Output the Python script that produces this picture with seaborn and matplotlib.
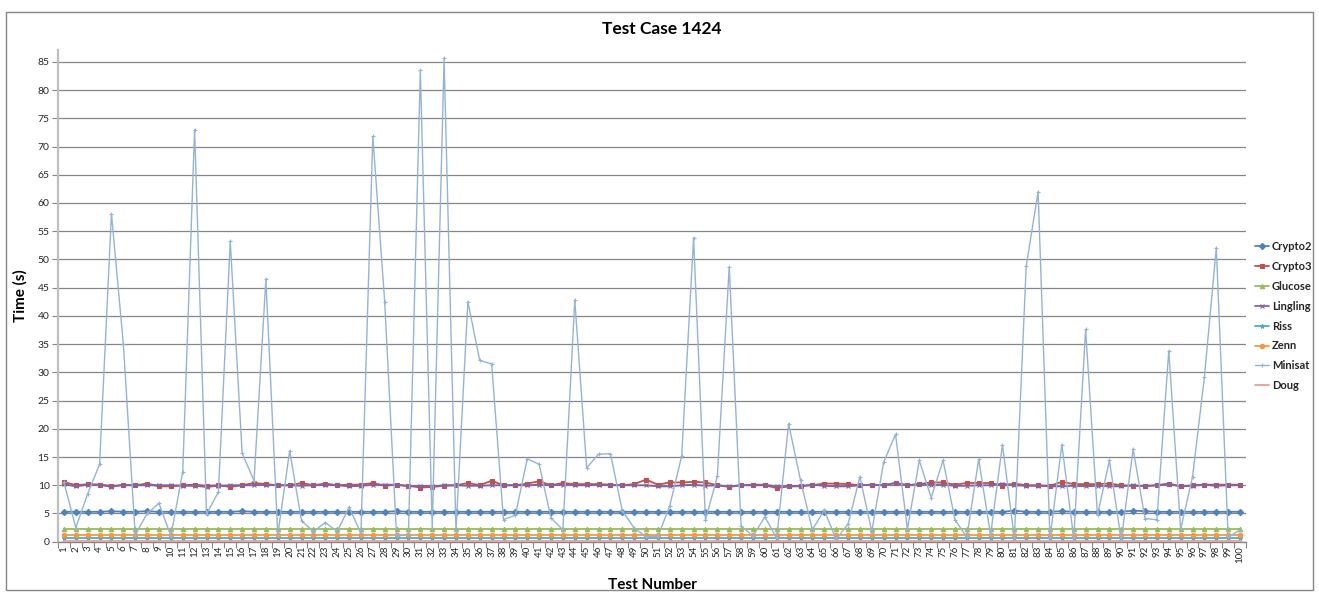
#!/usr/bin/env python3

import matplotlib
matplotlib.use('Agg')
import matplotlib.pyplot as plt
import seaborn as sns
from matplotlib.patches import Rectangle
from matplotlib.ticker import MultipleLocator

# --- Data ---
tests = list(range(1, 101))

crypto2 = [5.3, 5.3, 5.3, 5.3, 5.4, 5.3, 5.3, 5.4, 5.3, 5.3,
           5.3, 5.3, 5.3, 5.3, 5.3, 5.4, 5.3, 5.3, 5.3, 5.3,
           5.3, 5.3, 5.3, 5.3, 5.3, 5.3, 5.3, 5.3, 5.4, 5.3,
           5.3, 5.3, 5.3, 5.3, 5.3, 5.3, 5.3, 5.3, 5.3, 5.3,
           5.3, 5.3, 5.3, 5.3, 5.3, 5.3, 5.3, 5.3, 5.3, 5.3,
           5.3, 5.3, 5.3, 5.3, 5.3, 5.3, 5.3, 5.3, 5.3, 5.3,
           5.3, 5.3, 5.3, 5.3, 5.3, 5.3, 5.3, 5.3, 5.3, 5.3,
           5.3, 5.3, 5.3, 5.3, 5.3, 5.3, 5.3, 5.3, 5.3, 5.3,
           5.5, 5.3, 5.3, 5.3, 5.4, 5.3, 5.3, 5.3, 5.3, 5.3,
           5.5, 5.4, 5.3, 5.3, 5.3, 5.3, 5.3, 5.3, 5.3, 5.3]

crypto3 = [10.6, 10.0, 10.2, 10.1, 9.9, 10.0, 10.0, 10.3, 9.8, 9.8,
           10.0, 10.1, 9.9, 10.0, 9.7, 10.0, 10.4, 10.2, 10.0, 10.0,
           10.4, 10.0, 10.3, 10.0, 10.1, 10.1, 10.4, 9.9, 10.1, 9.9,
           9.6, 9.7, 9.9, 10.0, 10.4, 10.0, 10.8, 10.0, 10.0, 10.3,
           10.7, 10.0, 10.4, 10.2, 10.2, 10.2, 10.1, 10.0, 10.2, 11.0,
           10.1, 10.5, 10.5, 10.6, 10.5, 10.0, 9.7, 10.0, 10.0, 10.0,
           9.5, 9.8, 9.9, 10.0, 10.3, 10.3, 10.2, 10.0, 10.1, 10.0,
           10.4, 10.0, 10.2, 10.5, 10.5, 10.1, 10.4, 10.4, 10.4, 9.9,
           10.3, 10.0, 10.0, 9.9, 10.6, 10.2, 10.2, 10.2, 10.3, 10.0,
           9.9, 9.9, 10.0, 10.3, 9.8, 10.0, 10.1, 10.1, 10.1, 10.1]

glucose = [2.3] * 100

lingling = [10.2, 9.8, 10.1, 10.1, 9.7, 10.1, 10.0, 10.0, 10.0, 10.0,
            9.9, 9.9, 9.7, 9.9, 10.0, 10.0, 10.0, 10.1, 10.0, 10.0,
            9.9, 10.0, 10.1, 10.0, 9.8, 9.9, 10.1, 10.1, 10.1, 9.8,
            9.9, 9.8, 10.0, 10.0, 9.9, 9.9, 10.0, 10.0, 10.0, 10.0,
            10.1, 10.0, 10.1, 10.0, 10.0, 10.1, 10.0, 10.0, 10.0, 10.0,
            9.8, 9.8, 10.0, 10.1, 9.9, 10.0, 9.8, 10.0, 10.1, 10.1,
            9.8, 9.8, 9.8, 10.1, 9.9, 9.8, 9.8, 10.0, 10.1, 10.0,
            10.4, 10.0, 10.2, 10.1, 10.1, 9.9, 9.9, 10.0, 10.0, 10.3,
            10.0, 9.9, 9.9, 9.8, 9.8, 9.9, 9.8, 9.9, 9.8, 9.8,
            10.0, 9.8, 10.0, 10.2, 9.8, 9.9, 10.1, 9.9, 10.0, 10.0]

riss = [0.6] * 100

zenn = [1.2] * 100

minisat = [10.5, 2.5, 8.5, 13.7, 58.1, 35.0, 1.2, 5.0, 6.8, 1.0,
           12.4, 73.0, 4.9, 8.8, 53.2, 15.7, 10.8, 46.5, 1.2, 16.1,
           3.7, 1.8, 3.4, 1.8, 6.1, 1.5, 71.8, 42.5, 1.0, 1.3,
           83.5, 2.5, 85.6, 1.9, 42.5, 32.1, 31.5, 3.9, 4.7, 14.7,
           13.7, 4.2, 2.1, 42.8, 13.1, 15.5, 15.6, 5.5, 2.4, 0.9,
           0.9, 6.4, 15.2, 53.8, 3.8, 11.6, 48.7, 2.8, 1.0, 4.4,
           0.6, 20.9, 10.9, 2.1, 5.6, 0.4, 3.1, 11.5, 1.8, 14.1,
           19.0, 2.2, 14.4, 7.8, 14.4, 3.9, 0.8, 14.6, 1.2, 17.2,
           0.6, 48.8, 62.0, 0.6, 17.2, 0.6, 37.6, 4.7, 14.4, 0.3,
           16.4, 4.1, 3.9, 33.8, 2.2, 11.5, 29.2, 52.1, 0.8, 2.1]

doug = [0.1] * 100

series_names = ['Crypto2', 'Crypto3', 'Glucose', 'Lingling', 'Riss', 'Zenn', 'Minisat', 'Doug']
series_values = [crypto2, crypto3, glucose, lingling, riss, zenn, minisat, doug]
series_colors = ['#4F81BD', '#C0504D', '#9BBB59', '#8064A2', '#4BACC6', '#F79646', '#95B3D7', '#E6A0A0']
series_markers = ['D', 's', '^', 'x', '*', 'o', '+', '_']

# --- Plot ---
sns.set_theme(style='white')
plt.rcParams['font.family'] = ['Lato', 'DejaVu Sans']

fig = plt.figure(figsize=(13.19, 5.92), dpi=100)
ax = fig.add_axes([58 / 1319, 1 - 541.7 / 592, (1246 - 58) / 1319, (541.7 - 50) / 592])

for i, (name, vals, col, mk) in enumerate(zip(series_names, series_values, series_colors, series_markers)):
    lw = 1.0 if name == 'Minisat' else 1.3
    ms = 3.2 if mk != 'x' else 3.5
    sns.lineplot(x=tests, y=vals, ax=ax, color=col, marker=mk, markersize=ms,
                 markeredgecolor=col, markeredgewidth=0.8, linewidth=lw,
                 label=name, zorder=3 + i, legend=False)

ax.set_xlim(0.5, 100.5)
ax.set_ylim(0, 87.1)
ax.yaxis.set_major_locator(MultipleLocator(5))
ax.set_xticks(tests)
ax.set_xticklabels([str(t) for t in tests], rotation=90, fontsize=7, color='#262626')
ax.set_xticks([t + 0.5 for t in range(0, 101)], minor=True)
ax.tick_params(axis='x', which='major', length=0, pad=3)
ax.tick_params(axis='x', which='minor', length=4, width=0.8, color='#868686', direction='out')
ax.tick_params(axis='y', length=4, width=0.8, color='#868686', labelsize=7.5, labelcolor='#262626', pad=2)
ax.tick_params(axis='x', which='both', bottom=True)
ax.tick_params(axis='y', left=True)

ax.grid(axis='y', color='#868686', linewidth=0.9)
ax.grid(axis='x', visible=False)
ax.set_axisbelow(True)
for side in ['top', 'right']:
    ax.spines[side].set_visible(False)
ax.spines['left'].set_color('#BFBFBF')
ax.spines['left'].set_linewidth(1.6)
ax.spines['bottom'].set_color('#868686')
ax.spines['bottom'].set_linewidth(1.0)

ax.set_xlabel('Test Number', fontsize=11, fontweight='bold', color='#000000')
ax.set_ylabel('Time (s)', fontsize=11, fontweight='bold', color='#000000')
ax.xaxis.set_label_coords(0.5, -0.074)
ax.yaxis.set_label_coords(-0.026, 0.5)

fig.text(662 / 1319, 1 - 29 / 592, 'Test Case 1424', ha='center', va='center',
         fontsize=12.5, fontweight='bold', color='#000000')

handles, labels = ax.get_legend_handles_labels()
leg = fig.legend(handles, labels, loc='upper left', bbox_to_anchor=(1255 / 1319, 1 - 241 / 592),
                 frameon=False, prop={'weight': 'bold', 'size': 8}, handlelength=1.3,
                 handletextpad=0.2, labelspacing=0.8, borderpad=0, borderaxespad=0)

# chart area border
fig.patches.append(Rectangle((6 / 1319, 1 - 590 / 592), (1313 - 6) / 1319, (590 - 12) / 592,
                             transform=fig.transFigure, fill=False, edgecolor='#868686', linewidth=1.0))

plt.savefig('out.png', dpi=100)
